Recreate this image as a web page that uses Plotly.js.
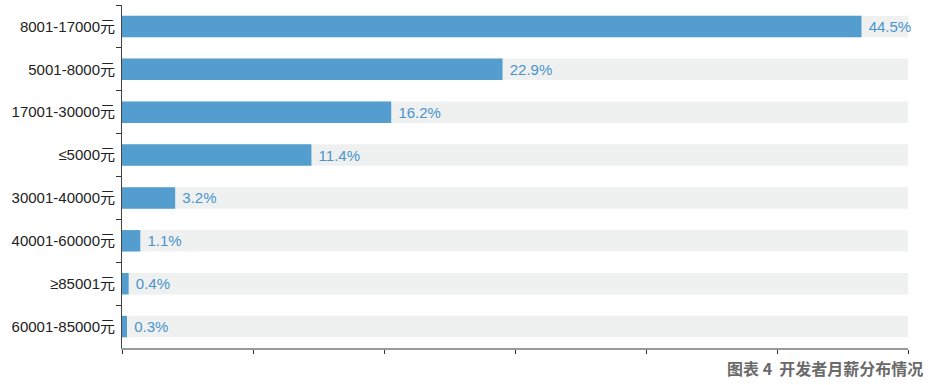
<!DOCTYPE html>
<html>
<head>
<meta charset="utf-8">
<script src="https://cdn.plot.ly/plotly-3.0.1.min.js"></script>
<style>html,body{margin:0;padding:0;background:#fff}#chart{width:929px;height:385px}</style>
</head>
<body>
<div id="chart"></div>
<script>
var categories = ["8001-17000元","5001-8000元","17001-30000元","≤5000元","30001-40000元","40001-60000元","≥85001元","60001-85000元"];
var values = [44.5, 22.9, 16.2, 11.4, 3.2, 1.1, 0.4, 0.3];
var valueLabels = ["44.5%","22.9%","16.2%","11.4%","3.2%","1.1%","0.4%","0.3%"];
var axisMax = 47.3;
var bgValues = categories.map(function(){return axisMax;});
var xTickVals = [0, 1, 2, 3, 4, 5, 6].map(function(i){return axisMax*i/6;});
var chartTitle = "图表 4  开发者月薪分布情况";

var font = "Liberation Sans, Arial, Noto Sans CJK SC, sans-serif";
var data = [
  {type:"bar", orientation:"h", y:categories, x:bgValues, marker:{color:"#eff0f0"}, width:0.5, hoverinfo:"skip", showlegend:false},
  {type:"bar", orientation:"h", y:categories, x:values, marker:{color:"#539dcf"}, width:0.5,
   text:valueLabels, texttemplate:"\u00a0%{text}", textposition:"outside", cliponaxis:false,
   textfont:{color:"#4a94cc", size:15, family:font}, showlegend:false}
];
var layout = {
  width:929, height:385,
  margin:{l:122, r:21, t:5, b:37},
  barmode:"overlay",
  paper_bgcolor:"#fff", plot_bgcolor:"#fff",
  font:{family:font, color:"#333"},
  xaxis:{range:[0, axisMax], tickvals:xTickVals, showticklabels:false, ticks:"outside", ticklen:4, tickcolor:"#333",
         showgrid:false, zeroline:false, showline:true, linecolor:"#999", linewidth:2, fixedrange:true},
  yaxis:{type:"category", autorange:"reversed", categoryorder:"array", categoryarray:categories,
         tickson:"boundaries", ticks:"outside", ticklen:5, tickcolor:"#333", showline:true, linecolor:"#444", linewidth:1,
         showgrid:false, zeroline:false, tickfont:{size:15, color:"#222"}, ticklabelstandoff:3},
  annotations:[{text:chartTitle, xref:"paper", yref:"paper", x:1.021, y:-0.018, xanchor:"right", yanchor:"top",
                showarrow:false, font:{size:16, color:"#6a6a6a", family:"Noto Sans CJK SC, sans-serif", weight:"bold"}}]
};
Plotly.newPlot("chart", data, layout, {displayModeBar:false});
</script>
</body>
</html>
